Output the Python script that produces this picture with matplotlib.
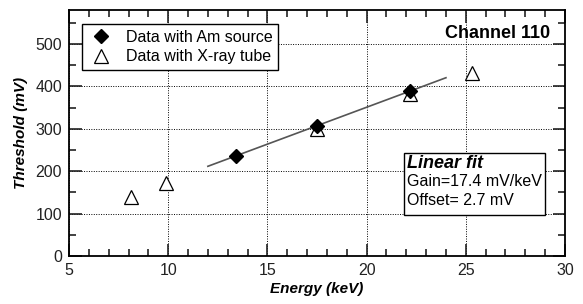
import matplotlib
matplotlib.use("Agg")
import matplotlib.pyplot as plt
import numpy as np
from matplotlib.ticker import MultipleLocator

plt.rcParams['font.family'] = ['Liberation Sans', 'DejaVu Sans']

# data
am_energy = [13.4, 17.5, 22.2]
am_threshold = [235, 306, 388]
xray_energy = [8.1, 9.9, 17.5, 22.2, 25.3]
xray_threshold = [139, 172, 300, 382, 431]
gain = 17.4
offset = 2.7
fit_range = [12.0, 24.0]

fig = plt.figure(figsize=(5.83, 3.04), dpi=100)
ax = fig.add_axes([69 / 583, 48 / 304, 496 / 583, 246 / 304])

fx = np.array(fit_range)
ax.plot(fx, gain * fx + offset, color='#555555', lw=1.2, zorder=2)
ax.plot(xray_energy, xray_threshold, ls='none', marker='^', ms=9.5,
        mfc='white', mec='black', mew=0.9, label='Data with X-ray tube', zorder=3)
ax.plot(am_energy, am_threshold, ls='none', marker='D', ms=7.5,
        color='black', label='Data with Am source', zorder=4)

ax.set_xlim(5, 30)
ax.set_ylim(0, 580)
ax.xaxis.set_major_locator(MultipleLocator(5))
ax.xaxis.set_minor_locator(MultipleLocator(1))
ax.yaxis.set_major_locator(MultipleLocator(100))
ax.yaxis.set_minor_locator(MultipleLocator(50))
ax.tick_params(which='both', direction='in', top=True, right=True,
               labelsize=11.5, width=1.2, pad=5, colors='#222222')
ax.tick_params(which='major', length=9)
ax.tick_params(which='minor', length=5)
for s in ax.spines.values():
    s.set_linewidth(1.3)
ax.grid(which='major', ls=(0, (1, 1.5)), color='black', lw=0.7)

ax.set_xlabel('Energy (keV)', fontsize=11, fontweight='bold', style='italic', labelpad=3)
ax.set_ylabel('Threshold (mV)', fontsize=11, fontweight='bold', style='italic', labelpad=5)

h, l = ax.get_legend_handles_labels()
leg = ax.legend(h[::-1], l[::-1], loc='upper left', bbox_to_anchor=(0.026, 0.943),
                fontsize=11.5, frameon=True, fancybox=False, edgecolor='black',
                framealpha=1, borderpad=0.35, handletextpad=0.7, labelspacing=0.3,
                handlelength=1.7, borderaxespad=0)
leg.get_frame().set_linewidth(1.0)

ax.text(0.97, 0.905, 'Channel 110', transform=ax.transAxes, ha='right', va='center',
        fontsize=13, fontweight='bold')

# fit annotation box, in data coordinates
ax.add_patch(plt.Rectangle((21.9, 97), 7.1, 146, fc='white', ec='black',
                           lw=1.0, zorder=5))
ax.text(22.05, 219, 'Linear fit', ha='left', va='center',
        fontsize=13, fontweight='bold', style='italic', zorder=6)
ax.text(22.05, 175, 'Gain=17.4 mV/keV', ha='left', va='center',
        fontsize=11.5, zorder=6)
ax.text(22.05, 132, 'Offset= 2.7 mV', ha='left', va='center',
        fontsize=11.5, zorder=6)

fig.savefig('out.png', dpi=100)
